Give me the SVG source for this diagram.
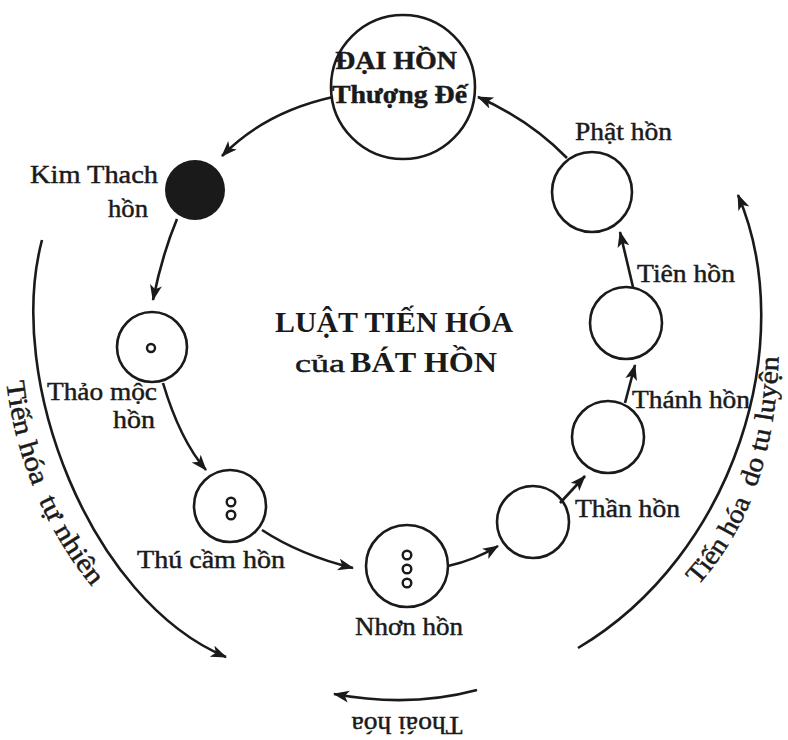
<svg xmlns="http://www.w3.org/2000/svg" width="788" height="740" viewBox="0 0 788 740">
  <defs>
    <marker id="arrow" markerUnits="userSpaceOnUse" markerWidth="20" markerHeight="14" refX="15" refY="6" orient="auto">
      <path d="M0,0 L16,6 L0,12 L4,6 z" fill="#1a1a1a"/>
    </marker>
    <path id="leftTextPath" d="M6,378 C 14,460 50,540 100,596"/>
    <path id="rightTextPath" d="M694,590 C 740,540 778,468 779,340"/>
  </defs>
  <style>
    .soul { fill: none; stroke: #1a1a1a; stroke-width: 2.6; }
    .dot { fill: none; stroke: #1a1a1a; stroke-width: 2.4; }
    .link { fill: none; stroke: #1a1a1a; stroke-width: 2.6; marker-end: url(#arrow); }
    .lbl { font-family: "Liberation Serif", "Times New Roman", serif; font-size: 25px; fill: #1a1a1a; stroke: #1a1a1a; stroke-width: 0.45; }
    .bold { font-weight: bold; }
    .title { font-family: "Liberation Serif", "Times New Roman", serif; font-size: 30px; font-weight: bold; fill: #1a1a1a; }
    .arcText { font-family: "Liberation Serif", "Times New Roman", serif; font-size: 27px; fill: #1a1a1a; stroke: #1a1a1a; stroke-width: 0.45; }
  </style>
  <rect width="788" height="740" fill="#ffffff"/>

  <!-- connectors between the souls, plus the large outer arcs -->
  <g id="connectors">
    <path class="link" d="M333,97 Q 265,112 222,156"/>
    <path class="link" d="M177,219 Q 162,255 153,300"/>
    <path class="link" d="M163,383 Q 180,440 206,470"/>
    <path class="link" d="M262,530 Q 300,555 353,568"/>
    <path class="link" d="M448,566 Q 475,560 498,546"/>
    <path class="link" d="M560,503 L585,476"/>
    <path class="link" d="M625,403 L635,365"/>
    <path class="link" d="M633,287 L620,232"/>
    <path class="link" d="M567,158 Q 530,120 478,97"/>
    <path class="link" d="M42,240 C 5,380 90,600 226,657"/>
    <path class="link" d="M578,648 C 735,555 800,340 738,195"/>
    <path class="link" d="M477,690 Q 410,708 334,694"/>
  </g>

  <g id="dai-hon">
    <circle class="soul" cx="403" cy="87" r="72"/>
    <text class="lbl bold" x="335" y="69" font-size="28" textLength="122" lengthAdjust="spacingAndGlyphs">ĐẠI HỒN</text>
    <text class="lbl bold" x="332" y="103" font-size="28" textLength="135" lengthAdjust="spacingAndGlyphs">Thượng Đế</text>
  </g>

  <g id="kim-thach">
    <circle cx="195" cy="190" r="30" fill="#1a1a1a"/>
    <text class="lbl" x="30" y="183" textLength="128" lengthAdjust="spacingAndGlyphs">Kim Thach</text>
    <text class="lbl" x="108" y="217" textLength="40" lengthAdjust="spacingAndGlyphs">hồn</text>
  </g>

  <g id="thao-moc">
    <circle class="soul" cx="152" cy="347" r="35"/>
    <circle class="dot" cx="151" cy="348" r="4"/>
    <text class="lbl" x="47" y="400" textLength="110" lengthAdjust="spacingAndGlyphs">Thảo mộc</text>
    <text class="lbl" x="113" y="428" textLength="42" lengthAdjust="spacingAndGlyphs">hồn</text>
  </g>

  <g id="thu-cam">
    <circle class="soul" cx="230" cy="506" r="36"/>
    <circle class="dot" cx="231" cy="502" r="4.3"/>
    <circle class="dot" cx="231" cy="515" r="4.3"/>
    <text class="lbl" x="137" y="568" textLength="148" lengthAdjust="spacingAndGlyphs">Thú cầm hồn</text>
  </g>

  <g id="nhon">
    <circle class="soul" cx="407" cy="566" r="41"/>
    <circle class="dot" cx="407" cy="555" r="4.3"/>
    <circle class="dot" cx="407" cy="569" r="4.3"/>
    <circle class="dot" cx="407" cy="583" r="4.3"/>
    <text class="lbl" x="355" y="635" textLength="108" lengthAdjust="spacingAndGlyphs">Nhơn hồn</text>
  </g>

  <g id="than">
    <circle class="soul" cx="533" cy="522" r="36"/>
    <text class="lbl" x="575" y="517" textLength="105" lengthAdjust="spacingAndGlyphs">Thần hồn</text>
  </g>

  <g id="thanh">
    <circle class="soul" cx="608" cy="437" r="36"/>
    <text class="lbl" x="632" y="408" textLength="118" lengthAdjust="spacingAndGlyphs">Thánh hồn</text>
  </g>

  <g id="tien">
    <circle class="soul" cx="626" cy="323" r="36"/>
    <text class="lbl" x="637" y="282" textLength="98" lengthAdjust="spacingAndGlyphs">Tiên hồn</text>
  </g>

  <g id="phat">
    <circle class="soul" cx="592" cy="192" r="40"/>
    <text class="lbl" x="575" y="140" textLength="97" lengthAdjust="spacingAndGlyphs">Phật hồn</text>
  </g>

  <g id="title">
    <text class="title" x="275" y="332" textLength="238" lengthAdjust="spacingAndGlyphs">LUẬT TIẾN HÓA</text>
    <text class="lbl" x="295" y="372" font-size="29" textLength="50" lengthAdjust="spacingAndGlyphs">của</text>
    <text class="title" x="350" y="372" textLength="147" lengthAdjust="spacingAndGlyphs">BÁT HỒN</text>
  </g>

  <g id="arc-labels">
    <text class="arcText"><textPath href="#leftTextPath" startOffset="4" textLength="108" lengthAdjust="spacingAndGlyphs">Tiến hóa</textPath></text>
    <text class="arcText"><textPath href="#leftTextPath" startOffset="127" textLength="102" lengthAdjust="spacingAndGlyphs">tự nhiên</textPath></text>
    <text class="arcText"><textPath href="#rightTextPath" startOffset="6" textLength="100" lengthAdjust="spacingAndGlyphs">Tiến hóa</textPath></text>
    <text class="arcText"><textPath href="#rightTextPath" startOffset="120" textLength="60" lengthAdjust="spacingAndGlyphs">do tu</textPath></text>
    <text class="arcText"><textPath href="#rightTextPath" startOffset="188" textLength="66" lengthAdjust="spacingAndGlyphs">luyện</textPath></text>
    <text class="lbl" x="407" y="717" font-size="22" text-anchor="middle" textLength="111" lengthAdjust="spacingAndGlyphs" transform="rotate(180 407 717)">Thoái hóa</text>
  </g>
</svg>
